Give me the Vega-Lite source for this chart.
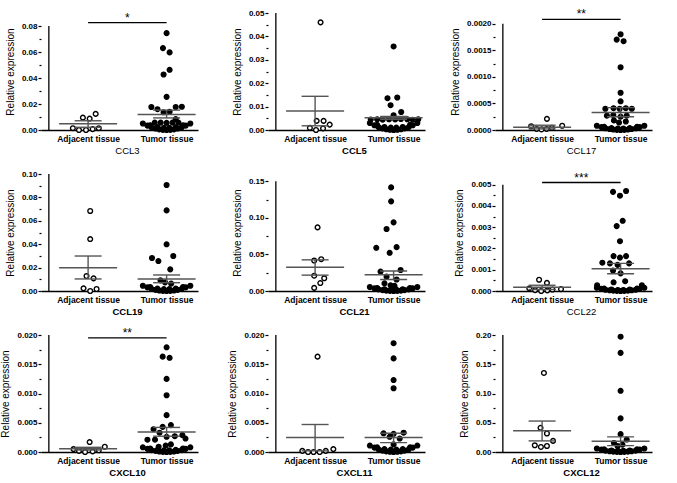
{
"$schema":"https://vega.github.io/schema/vega-lite/v6.json",
"padding":{"left":0,"top":8,"right":5,"bottom":5},
"columns":3,
"spacing":{"row":44,"column":70},
"bounds":"flush",
"datasets":{
"pts":[
{"p":"CCL3","g":0,"v":0.0095,"dx":-5.7},{"p":"CCL3","g":0,"v":0.0088,"dx":1.7},{"p":"CCL3","g":0,"v":0.0124,"dx":8.3},{"p":"CCL3","g":0,"v":0.0014,"dx":-16.7},{"p":"CCL3","g":0,"v":0,"dx":-10},{"p":"CCL3","g":0,"v":0,"dx":-2.3},{"p":"CCL3","g":0,"v":0.0007,"dx":5},{"p":"CCL3","g":0,"v":0.0014,"dx":11.7},
{"p":"CCL3","g":1,"v":0.0745,"dx":0},{"p":"CCL3","g":1,"v":0.063,"dx":-4},{"p":"CCL3","g":1,"v":0.0597,"dx":3.3},{"p":"CCL3","g":1,"v":0.0463,"dx":3.3},{"p":"CCL3","g":1,"v":0.0427,"dx":-3.3},{"p":"CCL3","g":1,"v":0.0255,"dx":0},{"p":"CCL3","g":1,"v":0.0177,"dx":-16.7},{"p":"CCL3","g":1,"v":0.016,"dx":-10},{"p":"CCL3","g":1,"v":0.0177,"dx":10},{"p":"CCL3","g":1,"v":0.0179,"dx":16.7},{"p":"CCL3","g":1,"v":0.0136,"dx":-3.3},{"p":"CCL3","g":1,"v":0.0141,"dx":3.3},{"p":"CCL3","g":1,"v":0.0084,"dx":10},{"p":"CCL3","g":1,"v":0.0057,"dx":-13},{"p":"CCL3","g":1,"v":0.0057,"dx":-6.5},{"p":"CCL3","g":1,"v":0.0055,"dx":0},{"p":"CCL3","g":1,"v":0.0057,"dx":6.5},{"p":"CCL3","g":1,"v":0.0057,"dx":13},
{"p":"CCL3","g":1,"v":0.005,"dx":-26},{"p":"CCL3","g":1,"v":0.0034,"dx":-21},{"p":"CCL3","g":1,"v":0.002,"dx":-16.5},{"p":"CCL3","g":1,"v":0.0011,"dx":-12},{"p":"CCL3","g":1,"v":0.0005,"dx":-8},{"p":"CCL3","g":1,"v":0.00013,"dx":-4},{"p":"CCL3","g":1,"v":0,"dx":0},{"p":"CCL3","g":1,"v":0.00013,"dx":4},{"p":"CCL3","g":1,"v":0.0005,"dx":8},{"p":"CCL3","g":1,"v":0.0011,"dx":12},{"p":"CCL3","g":1,"v":0.002,"dx":16.5},{"p":"CCL3","g":1,"v":0.0034,"dx":21},{"p":"CCL3","g":1,"v":0.005,"dx":26},
{"p":"CCL3","g":1,"v":0.0037,"dx":-18},{"p":"CCL3","g":1,"v":0.0022,"dx":-10},{"p":"CCL3","g":1,"v":0.0017,"dx":-3},{"p":"CCL3","g":1,"v":0.0017,"dx":3},{"p":"CCL3","g":1,"v":0.0022,"dx":10},{"p":"CCL3","g":1,"v":0.0037,"dx":18},

{"p":"CCL5","g":0,"v":0.046,"dx":6},{"p":"CCL5","g":0,"v":0.0039,"dx":1.7},{"p":"CCL5","g":0,"v":0.0039,"dx":9.3},{"p":"CCL5","g":0,"v":0.0023,"dx":16},{"p":"CCL5","g":0,"v":0.0009,"dx":-5.7},{"p":"CCL5","g":0,"v":0,"dx":1},{"p":"CCL5","g":0,"v":0.0007,"dx":8.7},
{"p":"CCL5","g":1,"v":0.0357,"dx":0},{"p":"CCL5","g":1,"v":0.0136,"dx":-6.7},{"p":"CCL5","g":1,"v":0.0139,"dx":4},{"p":"CCL5","g":1,"v":0.0106,"dx":-3.3},{"p":"CCL5","g":1,"v":0.0077,"dx":8.3},{"p":"CCL5","g":1,"v":0.0063,"dx":0},
{"p":"CCL5","g":1,"v":0.0045,"dx":-25},{"p":"CCL5","g":1,"v":0.0046,"dx":-18},{"p":"CCL5","g":1,"v":0.0044,"dx":-12},{"p":"CCL5","g":1,"v":0.0046,"dx":-5},{"p":"CCL5","g":1,"v":0.0045,"dx":1.7},{"p":"CCL5","g":1,"v":0.0047,"dx":8},{"p":"CCL5","g":1,"v":0.0046,"dx":15},{"p":"CCL5","g":1,"v":0.0044,"dx":21},{"p":"CCL5","g":1,"v":0.0046,"dx":27},
{"p":"CCL5","g":1,"v":0.003,"dx":-26},{"p":"CCL5","g":1,"v":0.002,"dx":-21},{"p":"CCL5","g":1,"v":0.0012,"dx":-16.5},{"p":"CCL5","g":1,"v":0.00066,"dx":-12},{"p":"CCL5","g":1,"v":0.0003,"dx":-8},{"p":"CCL5","g":1,"v":0.00008,"dx":-4},{"p":"CCL5","g":1,"v":0,"dx":0},{"p":"CCL5","g":1,"v":0.00008,"dx":4},{"p":"CCL5","g":1,"v":0.0003,"dx":8},{"p":"CCL5","g":1,"v":0.00066,"dx":12},{"p":"CCL5","g":1,"v":0.0012,"dx":16.5},{"p":"CCL5","g":1,"v":0.002,"dx":21},{"p":"CCL5","g":1,"v":0.003,"dx":26},
{"p":"CCL5","g":1,"v":0.0022,"dx":-18},{"p":"CCL5","g":1,"v":0.0013,"dx":-10},{"p":"CCL5","g":1,"v":0.001,"dx":-3},{"p":"CCL5","g":1,"v":0.001,"dx":3},{"p":"CCL5","g":1,"v":0.0013,"dx":10},{"p":"CCL5","g":1,"v":0.0022,"dx":18},

{"p":"CCL17","g":0,"v":0.00021,"dx":5.3},{"p":"CCL17","g":0,"v":0.00007,"dx":-12},{"p":"CCL17","g":0,"v":0.00002,"dx":-6},{"p":"CCL17","g":0,"v":0.00001,"dx":-0.7},{"p":"CCL17","g":0,"v":0.00002,"dx":5},{"p":"CCL17","g":0,"v":0.00004,"dx":10.7},{"p":"CCL17","g":0,"v":0.00008,"dx":22},
{"p":"CCL17","g":1,"v":0.0018,"dx":0},{"p":"CCL17","g":1,"v":0.0017,"dx":-4.3},{"p":"CCL17","g":1,"v":0.00167,"dx":3.3},{"p":"CCL17","g":1,"v":0.00118,"dx":0},{"p":"CCL17","g":1,"v":0.0007,"dx":0},{"p":"CCL17","g":1,"v":0.00054,"dx":0},
{"p":"CCL17","g":1,"v":0.0004,"dx":-16.7},{"p":"CCL17","g":1,"v":0.00041,"dx":-7.7},{"p":"CCL17","g":1,"v":0.0004,"dx":-1},{"p":"CCL17","g":1,"v":0.00041,"dx":5.7},{"p":"CCL17","g":1,"v":0.0004,"dx":12.3},
{"p":"CCL17","g":1,"v":0.00027,"dx":-15},{"p":"CCL17","g":1,"v":0.00028,"dx":-8},{"p":"CCL17","g":1,"v":0.00025,"dx":0},{"p":"CCL17","g":1,"v":0.00027,"dx":6.7},
{"p":"CCL17","g":1,"v":0.00018,"dx":-7.3},{"p":"CCL17","g":1,"v":0.00014,"dx":-1.7},{"p":"CCL17","g":1,"v":0.00016,"dx":5.7},
{"p":"CCL17","g":1,"v":0.00008,"dx":-26},{"p":"CCL17","g":1,"v":0.000054,"dx":-21},{"p":"CCL17","g":1,"v":0.000032,"dx":-16.5},{"p":"CCL17","g":1,"v":0.000018,"dx":-12},{"p":"CCL17","g":1,"v":0.000008,"dx":-8},{"p":"CCL17","g":1,"v":0.000002,"dx":-4},{"p":"CCL17","g":1,"v":0,"dx":0},{"p":"CCL17","g":1,"v":0.000002,"dx":4},{"p":"CCL17","g":1,"v":0.000008,"dx":8},{"p":"CCL17","g":1,"v":0.000018,"dx":12},{"p":"CCL17","g":1,"v":0.000032,"dx":16.5},{"p":"CCL17","g":1,"v":0.000054,"dx":21},{"p":"CCL17","g":1,"v":0.00008,"dx":26},
{"p":"CCL17","g":1,"v":0.00006,"dx":-18},{"p":"CCL17","g":1,"v":0.000036,"dx":-10},{"p":"CCL17","g":1,"v":0.000028,"dx":-3},{"p":"CCL17","g":1,"v":0.000028,"dx":3},{"p":"CCL17","g":1,"v":0.000036,"dx":10},{"p":"CCL17","g":1,"v":0.00006,"dx":18},

{"p":"CCL19","g":0,"v":0.0684,"dx":2.3},{"p":"CCL19","g":0,"v":0.0444,"dx":2.3},{"p":"CCL19","g":0,"v":0.0128,"dx":-1.7},{"p":"CCL19","g":0,"v":0.0108,"dx":6},{"p":"CCL19","g":0,"v":0.0023,"dx":-5},{"p":"CCL19","g":0,"v":0,"dx":2.3},{"p":"CCL19","g":0,"v":0.0017,"dx":9.3},
{"p":"CCL19","g":1,"v":0.0906,"dx":0},{"p":"CCL19","g":1,"v":0.0689,"dx":0},{"p":"CCL19","g":1,"v":0.0399,"dx":0},{"p":"CCL19","g":1,"v":0.0282,"dx":-16},{"p":"CCL19","g":1,"v":0.0299,"dx":7.3},{"p":"CCL19","g":1,"v":0.0256,"dx":-9},{"p":"CCL19","g":1,"v":0.0185,"dx":4},{"p":"CCL19","g":1,"v":0.0091,"dx":-6.7},{"p":"CCL19","g":1,"v":0.0063,"dx":5},{"p":"CCL19","g":1,"v":0.0074,"dx":-1.7},
{"p":"CCL19","g":1,"v":0.0045,"dx":-26},{"p":"CCL19","g":1,"v":0.0031,"dx":-21},{"p":"CCL19","g":1,"v":0.0018,"dx":-16.5},{"p":"CCL19","g":1,"v":0.001,"dx":-12},{"p":"CCL19","g":1,"v":0.00045,"dx":-8},{"p":"CCL19","g":1,"v":0.00011,"dx":-4},{"p":"CCL19","g":1,"v":0,"dx":0},{"p":"CCL19","g":1,"v":0.00011,"dx":4},{"p":"CCL19","g":1,"v":0.00045,"dx":8},{"p":"CCL19","g":1,"v":0.001,"dx":12},{"p":"CCL19","g":1,"v":0.0018,"dx":16.5},{"p":"CCL19","g":1,"v":0.0031,"dx":21},{"p":"CCL19","g":1,"v":0.0045,"dx":26},
{"p":"CCL19","g":1,"v":0.0034,"dx":-18},{"p":"CCL19","g":1,"v":0.002,"dx":-10},{"p":"CCL19","g":1,"v":0.0016,"dx":-3},{"p":"CCL19","g":1,"v":0.0016,"dx":3},{"p":"CCL19","g":1,"v":0.002,"dx":10},{"p":"CCL19","g":1,"v":0.0034,"dx":18},

{"p":"CCL21","g":0,"v":0.087,"dx":2.7},{"p":"CCL21","g":0,"v":0.0417,"dx":-1},{"p":"CCL21","g":0,"v":0.0435,"dx":6.7},{"p":"CCL21","g":0,"v":0.0209,"dx":-1},{"p":"CCL21","g":0,"v":0.0174,"dx":10},{"p":"CCL21","g":0,"v":0.0109,"dx":5.7},{"p":"CCL21","g":0,"v":0.0043,"dx":-1},
{"p":"CCL21","g":1,"v":0.1417,"dx":-2.7},{"p":"CCL21","g":1,"v":0.1226,"dx":-2.7},{"p":"CCL21","g":1,"v":0.0939,"dx":0},{"p":"CCL21","g":1,"v":0.0848,"dx":-7.7},{"p":"CCL21","g":1,"v":0.0591,"dx":-19},{"p":"CCL21","g":1,"v":0.06,"dx":3.3},{"p":"CCL21","g":1,"v":0.0522,"dx":-4.3},{"p":"CCL21","g":1,"v":0.0265,"dx":-14.3},{"p":"CCL21","g":1,"v":0.0287,"dx":7.7},{"p":"CCL21","g":1,"v":0.0196,"dx":-7.7},{"p":"CCL21","g":1,"v":0.0157,"dx":3.3},{"p":"CCL21","g":1,"v":0.0104,"dx":-10},{"p":"CCL21","g":1,"v":0.0078,"dx":-3.3},{"p":"CCL21","g":1,"v":0.007,"dx":1},
{"p":"CCL21","g":1,"v":0.0055,"dx":-26},{"p":"CCL21","g":1,"v":0.0037,"dx":-21},{"p":"CCL21","g":1,"v":0.0022,"dx":-16.5},{"p":"CCL21","g":1,"v":0.0012,"dx":-12},{"p":"CCL21","g":1,"v":0.00055,"dx":-8},{"p":"CCL21","g":1,"v":0.00014,"dx":-4},{"p":"CCL21","g":1,"v":0,"dx":0},{"p":"CCL21","g":1,"v":0.00014,"dx":4},{"p":"CCL21","g":1,"v":0.00055,"dx":8},{"p":"CCL21","g":1,"v":0.0012,"dx":12},{"p":"CCL21","g":1,"v":0.0022,"dx":16.5},{"p":"CCL21","g":1,"v":0.0037,"dx":21},{"p":"CCL21","g":1,"v":0.0055,"dx":26},
{"p":"CCL21","g":1,"v":0.0041,"dx":-18},{"p":"CCL21","g":1,"v":0.0025,"dx":-10},{"p":"CCL21","g":1,"v":0.0019,"dx":-3},{"p":"CCL21","g":1,"v":0.0019,"dx":3},{"p":"CCL21","g":1,"v":0.0025,"dx":10},{"p":"CCL21","g":1,"v":0.0041,"dx":18},

{"p":"CCL22","g":0,"v":0.00053,"dx":-3.3},{"p":"CCL22","g":0,"v":0.00038,"dx":5.3},{"p":"CCL22","g":0,"v":0.00012,"dx":-14},{"p":"CCL22","g":0,"v":0.00004,"dx":-7.7},{"p":"CCL22","g":0,"v":0,"dx":-1},{"p":"CCL22","g":0,"v":0.00003,"dx":5.7},{"p":"CCL22","g":0,"v":0.00007,"dx":11.3},{"p":"CCL22","g":0,"v":0.00009,"dx":20.7},
{"p":"CCL22","g":1,"v":0.00466,"dx":-8.3},{"p":"CCL22","g":1,"v":0.0047,"dx":6},{"p":"CCL22","g":1,"v":0.00448,"dx":-0.7},{"p":"CCL22","g":1,"v":0.0033,"dx":2.3},{"p":"CCL22","g":1,"v":0.00305,"dx":-4.3},{"p":"CCL22","g":1,"v":0.00234,"dx":-0.7},{"p":"CCL22","g":1,"v":0.00164,"dx":-7.7},{"p":"CCL22","g":1,"v":0.00157,"dx":-0.7},{"p":"CCL22","g":1,"v":0.00164,"dx":6},{"p":"CCL22","g":1,"v":0.00133,"dx":-20},{"p":"CCL22","g":1,"v":0.0013,"dx":-11.7},{"p":"CCL22","g":1,"v":0.00123,"dx":-3.3},{"p":"CCL22","g":1,"v":0.0013,"dx":9.3},{"p":"CCL22","g":1,"v":0.00096,"dx":-8.3},{"p":"CCL22","g":1,"v":0.00083,"dx":0},{"p":"CCL22","g":1,"v":0.00041,"dx":-7.7},{"p":"CCL22","g":1,"v":0.00046,"dx":5},{"p":"CCL22","g":1,"v":0.00027,"dx":-25.7},{"p":"CCL22","g":1,"v":0.00027,"dx":23.3},
{"p":"CCL22","g":1,"v":0.00015,"dx":-26},{"p":"CCL22","g":1,"v":0.0001,"dx":-21},{"p":"CCL22","g":1,"v":0.00006,"dx":-16.5},{"p":"CCL22","g":1,"v":0.000033,"dx":-12},{"p":"CCL22","g":1,"v":0.000015,"dx":-8},{"p":"CCL22","g":1,"v":0.000004,"dx":-4},{"p":"CCL22","g":1,"v":0,"dx":0},{"p":"CCL22","g":1,"v":0.000004,"dx":4},{"p":"CCL22","g":1,"v":0.000015,"dx":8},{"p":"CCL22","g":1,"v":0.000033,"dx":12},{"p":"CCL22","g":1,"v":0.00006,"dx":16.5},{"p":"CCL22","g":1,"v":0.0001,"dx":21},{"p":"CCL22","g":1,"v":0.00015,"dx":26},
{"p":"CCL22","g":1,"v":0.00011,"dx":-18},{"p":"CCL22","g":1,"v":0.00007,"dx":-10},{"p":"CCL22","g":1,"v":0.00005,"dx":-3},{"p":"CCL22","g":1,"v":0.00005,"dx":3},{"p":"CCL22","g":1,"v":0.00007,"dx":10},{"p":"CCL22","g":1,"v":0.00011,"dx":18},

{"p":"CXCL10","g":0,"v":0.0017,"dx":1.7},{"p":"CXCL10","g":0,"v":0.0009,"dx":18.3},{"p":"CXCL10","g":0,"v":0.0005,"dx":-16},{"p":"CXCL10","g":0,"v":0.0002,"dx":-10},{"p":"CXCL10","g":0,"v":0,"dx":-3.3},{"p":"CXCL10","g":0,"v":0.0001,"dx":5},{"p":"CXCL10","g":0,"v":0.0003,"dx":11.7},
{"p":"CXCL10","g":1,"v":0.0179,"dx":0},{"p":"CXCL10","g":1,"v":0.0163,"dx":-4.3},{"p":"CXCL10","g":1,"v":0.0161,"dx":3.3},{"p":"CXCL10","g":1,"v":0.0125,"dx":0},{"p":"CXCL10","g":1,"v":0.0097,"dx":0},{"p":"CXCL10","g":1,"v":0.0063,"dx":0},{"p":"CXCL10","g":1,"v":0.0039,"dx":-14.3},{"p":"CXCL10","g":1,"v":0.0043,"dx":-4.3},{"p":"CXCL10","g":1,"v":0.0046,"dx":4.7},{"p":"CXCL10","g":1,"v":0.0021,"dx":-21},{"p":"CXCL10","g":1,"v":0.0021,"dx":-12.7},{"p":"CXCL10","g":1,"v":0.0033,"dx":-7.7},{"p":"CXCL10","g":1,"v":0.0026,"dx":0},{"p":"CXCL10","g":1,"v":0.0027,"dx":9},{"p":"CXCL10","g":1,"v":0.0029,"dx":17.3},{"p":"CXCL10","g":1,"v":0.0023,"dx":20.7},{"p":"CXCL10","g":1,"v":0.0009,"dx":-8.7},{"p":"CXCL10","g":1,"v":0.0011,"dx":-1},{"p":"CXCL10","g":1,"v":0.0013,"dx":4.7},
{"p":"CXCL10","g":1,"v":0.0008,"dx":-26},{"p":"CXCL10","g":1,"v":0.00054,"dx":-21},{"p":"CXCL10","g":1,"v":0.00032,"dx":-16.5},{"p":"CXCL10","g":1,"v":0.00018,"dx":-12},{"p":"CXCL10","g":1,"v":0.00008,"dx":-8},{"p":"CXCL10","g":1,"v":0.00002,"dx":-4},{"p":"CXCL10","g":1,"v":0,"dx":0},{"p":"CXCL10","g":1,"v":0.00002,"dx":4},{"p":"CXCL10","g":1,"v":0.00008,"dx":8},{"p":"CXCL10","g":1,"v":0.00018,"dx":12},{"p":"CXCL10","g":1,"v":0.00032,"dx":16.5},{"p":"CXCL10","g":1,"v":0.00054,"dx":21},{"p":"CXCL10","g":1,"v":0.0008,"dx":26},
{"p":"CXCL10","g":1,"v":0.0006,"dx":-18},{"p":"CXCL10","g":1,"v":0.00036,"dx":-10},{"p":"CXCL10","g":1,"v":0.00028,"dx":-3},{"p":"CXCL10","g":1,"v":0.00028,"dx":3},{"p":"CXCL10","g":1,"v":0.00036,"dx":10},{"p":"CXCL10","g":1,"v":0.0006,"dx":18},

{"p":"CXCL11","g":0,"v":0.0163,"dx":2.7},{"p":"CXCL11","g":0,"v":0.0002,"dx":-14},{"p":"CXCL11","g":0,"v":0,"dx":-7.7},{"p":"CXCL11","g":0,"v":0,"dx":-1.7},{"p":"CXCL11","g":0,"v":0,"dx":5},{"p":"CXCL11","g":0,"v":0.0002,"dx":11.7},{"p":"CXCL11","g":0,"v":0.0005,"dx":20},
{"p":"CXCL11","g":1,"v":0.0186,"dx":0},{"p":"CXCL11","g":1,"v":0.016,"dx":0},{"p":"CXCL11","g":1,"v":0.0123,"dx":0},{"p":"CXCL11","g":1,"v":0.0109,"dx":0},{"p":"CXCL11","g":1,"v":0.0032,"dx":-11},{"p":"CXCL11","g":1,"v":0.0031,"dx":0},{"p":"CXCL11","g":1,"v":0.0033,"dx":11},{"p":"CXCL11","g":1,"v":0.0026,"dx":-4.3},{"p":"CXCL11","g":1,"v":0.0023,"dx":6.7},{"p":"CXCL11","g":1,"v":0.0013,"dx":0},
{"p":"CXCL11","g":1,"v":0.0011,"dx":-26},{"p":"CXCL11","g":1,"v":0.00075,"dx":-21},{"p":"CXCL11","g":1,"v":0.00044,"dx":-16.5},{"p":"CXCL11","g":1,"v":0.00024,"dx":-12},{"p":"CXCL11","g":1,"v":0.00011,"dx":-8},{"p":"CXCL11","g":1,"v":0.00003,"dx":-4},{"p":"CXCL11","g":1,"v":0,"dx":0},{"p":"CXCL11","g":1,"v":0.00003,"dx":4},{"p":"CXCL11","g":1,"v":0.00011,"dx":8},{"p":"CXCL11","g":1,"v":0.00024,"dx":12},{"p":"CXCL11","g":1,"v":0.00044,"dx":16.5},{"p":"CXCL11","g":1,"v":0.00075,"dx":21},{"p":"CXCL11","g":1,"v":0.0011,"dx":26},
{"p":"CXCL11","g":1,"v":0.0008,"dx":-18},{"p":"CXCL11","g":1,"v":0.0005,"dx":-10},{"p":"CXCL11","g":1,"v":0.0004,"dx":-3},{"p":"CXCL11","g":1,"v":0.0004,"dx":3},{"p":"CXCL11","g":1,"v":0.0005,"dx":10},{"p":"CXCL11","g":1,"v":0.0008,"dx":18},

{"p":"CXCL12","g":0,"v":0.1351,"dx":2},{"p":"CXCL12","g":0,"v":0.0414,"dx":-1.7},{"p":"CXCL12","g":0,"v":0.0316,"dx":5.3},{"p":"CXCL12","g":0,"v":0.019,"dx":12},{"p":"CXCL12","g":0,"v":0.0115,"dx":-8},{"p":"CXCL12","g":0,"v":0.0086,"dx":-1.3},{"p":"CXCL12","g":0,"v":0.0103,"dx":5.3},
{"p":"CXCL12","g":1,"v":0.1971,"dx":0},{"p":"CXCL12","g":1,"v":0.1695,"dx":0},{"p":"CXCL12","g":1,"v":0.1046,"dx":0},{"p":"CXCL12","g":1,"v":0.0575,"dx":0},{"p":"CXCL12","g":1,"v":0.0305,"dx":0},{"p":"CXCL12","g":1,"v":0.0213,"dx":6.7},{"p":"CXCL12","g":1,"v":0.0155,"dx":-7.3},{"p":"CXCL12","g":1,"v":0.0126,"dx":2},{"p":"CXCL12","g":1,"v":0.0103,"dx":-3.3},
{"p":"CXCL12","g":1,"v":0.006,"dx":-26},{"p":"CXCL12","g":1,"v":0.0041,"dx":-21},{"p":"CXCL12","g":1,"v":0.0024,"dx":-16.5},{"p":"CXCL12","g":1,"v":0.0013,"dx":-12},{"p":"CXCL12","g":1,"v":0.0006,"dx":-8},{"p":"CXCL12","g":1,"v":0.00015,"dx":-4},{"p":"CXCL12","g":1,"v":0,"dx":0},{"p":"CXCL12","g":1,"v":0.00015,"dx":4},{"p":"CXCL12","g":1,"v":0.0006,"dx":8},{"p":"CXCL12","g":1,"v":0.0013,"dx":12},{"p":"CXCL12","g":1,"v":0.0024,"dx":16.5},{"p":"CXCL12","g":1,"v":0.0041,"dx":21},{"p":"CXCL12","g":1,"v":0.006,"dx":26},
{"p":"CXCL12","g":1,"v":0.0045,"dx":-18},{"p":"CXCL12","g":1,"v":0.0027,"dx":-10},{"p":"CXCL12","g":1,"v":0.0021,"dx":-3},{"p":"CXCL12","g":1,"v":0.0021,"dx":3},{"p":"CXCL12","g":1,"v":0.0027,"dx":10},{"p":"CXCL12","g":1,"v":0.0045,"dx":18}
],
"summ":[
{"p":"CCL3","g":0,"mean":0.0048,"lo":0.0021,"hi":0.0071},{"p":"CCL3","g":1,"mean":0.0119,"lo":0.0093,"hi":0.0153},
{"p":"CCL5","g":0,"mean":0.0081,"lo":0.0018,"hi":0.0144},{"p":"CCL5","g":1,"mean":0.0052,"lo":0.0046,"hi":0.0058},
{"p":"CCL17","g":0,"mean":0.00005,"lo":0.00002,"hi":0.00009},{"p":"CCL17","g":1,"mean":0.00033,"lo":0.00025,"hi":0.00042},
{"p":"CCL19","g":0,"mean":0.0199,"lo":0.0103,"hi":0.0299},{"p":"CCL19","g":1,"mean":0.0103,"lo":0.0071,"hi":0.0137},
{"p":"CCL21","g":0,"mean":0.0326,"lo":0.0217,"hi":0.0426},{"p":"CCL21","g":1,"mean":0.0222,"lo":0.0157,"hi":0.0274},
{"p":"CCL22","g":0,"mean":0.00018,"lo":0.00007,"hi":0.00027},{"p":"CCL22","g":1,"mean":0.00105,"lo":0.00081,"hi":0.0013},
{"p":"CXCL10","g":0,"mean":0.00057,"lo":0.00034,"hi":0.0008},{"p":"CXCL10","g":1,"mean":0.0034,"lo":0.0027,"hi":0.0042},
{"p":"CXCL11","g":0,"mean":0.0025,"lo":0.0002,"hi":0.0047},{"p":"CXCL11","g":1,"mean":0.0025,"lo":0.0016,"hi":0.0032},
{"p":"CXCL12","g":0,"mean":0.0362,"lo":0.019,"hi":0.0529},{"p":"CXCL12","g":1,"mean":0.0184,"lo":0.0109,"hi":0.0259}
],
"sig":[
{"p":"CCL3","y":0.0826,"lab":"*"},{"p":"CCL17","y":0.00208,"lab":"**"},{"p":"CCL22","y":0.0051,"lab":"***"},{"p":"CXCL10","y":0.0195,"lab":"**"}
]
},
"concat":[
{"width":157,"height":117,"resolve":{"axis":{"y":"independent"}},"layer":[
{"data":{"name":"pts"},"transform":[{"filter":"datum.p=='CCL3'"},{"calculate":"datum.g+datum.dx/86","as":"xp"}],"mark":{"type":"circle","size":22,"stroke":"black","strokeWidth":1.4,"opacity":1},
"encoding":{"x":{"field":"xp","type":"quantitative","title":"CCL3","scale":{"domain":[-0.5,1.33]},"axis":{"values":[0,1],"labelExpr":"datum.value==0?'Adjacent tissue':'Tumor tissue'","titleFontWeight":"normal"}},
"y":{"field":"v","type":"quantitative","title":"Relative expression","scale":{"domain":[0,0.0836]},"axis":{"orient":"left","values":[0,0.02,0.04,0.06,0.08],"format":".2f"}},
"fill":{"condition":{"test":"datum.g==0","value":"white"},"value":"black"}}},
{"data":{"name":"summ"},"transform":[{"filter":"datum.p=='CCL3'"}],"mark":{"type":"rule","color":"#555","strokeWidth":1.4},"encoding":{"x":{"field":"g","type":"quantitative","title":"CCL3"},"y":{"field":"lo","type":"quantitative","axis":null},"y2":{"field":"hi"}}},
{"data":{"name":"summ"},"transform":[{"filter":"datum.p=='CCL3'"},{"fold":["lo","hi"],"as":["k","val"]}],"mark":{"type":"tick","orient":"horizontal","size":27,"thickness":1.4,"color":"#555","opacity":1},"encoding":{"x":{"field":"g","type":"quantitative","title":"CCL3"},"y":{"field":"val","type":"quantitative","axis":null}}},
{"data":{"name":"summ"},"transform":[{"filter":"datum.p=='CCL3'"}],"mark":{"type":"tick","orient":"horizontal","size":58,"thickness":1.5,"color":"#555","opacity":1},"encoding":{"x":{"field":"g","type":"quantitative","title":"CCL3"},"y":{"field":"mean","type":"quantitative","axis":null}}},
{"data":{"values":[{}]},"mark":{"type":"rule","color":"black","strokeWidth":1.3},"encoding":{"x":{"datum":-0.5},"y":{"datum":0,"axis":{"orient":"left","values":[0.01,0.03,0.05,0.07],"labels":false,"tickSize":2,"title":null}},"y2":{"datum":0.08}}},
{"data":{"name":"sig"},"transform":[{"filter":"datum.p=='CCL3'"}],"mark":{"type":"rule","color":"black","strokeWidth":1.3},"encoding":{"x":{"datum":0},"x2":{"datum":1},"y":{"field":"y","type":"quantitative","axis":null}}},
{"data":{"name":"sig"},"transform":[{"filter":"datum.p=='CCL3'"}],"mark":{"type":"text","fontSize":12,"baseline":"alphabetic","dy":-1,"color":"black"},"encoding":{"x":{"datum":0.5},"y":{"field":"y","type":"quantitative","axis":null},"text":{"field":"lab"}}}
]},
{"width":157,"height":117,"resolve":{"axis":{"y":"independent"}},"layer":[
{"data":{"name":"pts"},"transform":[{"filter":"datum.p=='CCL5'"},{"calculate":"datum.g+datum.dx/86","as":"xp"}],"mark":{"type":"circle","size":22,"stroke":"black","strokeWidth":1.4,"opacity":1},
"encoding":{"x":{"field":"xp","type":"quantitative","title":"CCL5","scale":{"domain":[-0.5,1.33]},"axis":{"values":[0,1],"labelExpr":"datum.value==0?'Adjacent tissue':'Tumor tissue'","titleFontWeight":"bold"}},
"y":{"field":"v","type":"quantitative","title":"Relative expression","scale":{"domain":[0,0.05]},"axis":{"orient":"left","values":[0,0.01,0.02,0.03,0.04,0.05],"format":".2f"}},
"fill":{"condition":{"test":"datum.g==0","value":"white"},"value":"black"}}},
{"data":{"name":"summ"},"transform":[{"filter":"datum.p=='CCL5'"}],"mark":{"type":"rule","color":"#555","strokeWidth":1.4},"encoding":{"x":{"field":"g","type":"quantitative","title":"CCL5"},"y":{"field":"lo","type":"quantitative","axis":null},"y2":{"field":"hi"}}},
{"data":{"name":"summ"},"transform":[{"filter":"datum.p=='CCL5'"},{"fold":["lo","hi"],"as":["k","val"]}],"mark":{"type":"tick","orient":"horizontal","size":27,"thickness":1.4,"color":"#555","opacity":1},"encoding":{"x":{"field":"g","type":"quantitative","title":"CCL5"},"y":{"field":"val","type":"quantitative","axis":null}}},
{"data":{"name":"summ"},"transform":[{"filter":"datum.p=='CCL5'"}],"mark":{"type":"tick","orient":"horizontal","size":58,"thickness":1.5,"color":"#555","opacity":1},"encoding":{"x":{"field":"g","type":"quantitative","title":"CCL5"},"y":{"field":"mean","type":"quantitative","axis":null}}},
{"data":{"values":[{}]},"mark":{"type":"rule","color":"black","strokeWidth":1.3},"encoding":{"x":{"datum":-0.5},"y":{"datum":0,"axis":{"orient":"left","values":[0.005,0.015,0.025,0.035,0.045],"labels":false,"tickSize":2,"title":null}},"y2":{"datum":0.05}}}
]},
{"width":157,"height":117,"resolve":{"axis":{"y":"independent"}},"layer":[
{"data":{"name":"pts"},"transform":[{"filter":"datum.p=='CCL17'"},{"calculate":"datum.g+datum.dx/86","as":"xp"}],"mark":{"type":"circle","size":22,"stroke":"black","strokeWidth":1.4,"opacity":1},
"encoding":{"x":{"field":"xp","type":"quantitative","title":"CCL17","scale":{"domain":[-0.5,1.33]},"axis":{"values":[0,1],"labelExpr":"datum.value==0?'Adjacent tissue':'Tumor tissue'","titleFontWeight":"normal"}},
"y":{"field":"v","type":"quantitative","title":"Relative expression","scale":{"domain":[0,0.002095]},"axis":{"orient":"left","values":[0,0.0005,0.001,0.0015,0.002],"format":".4f"}},
"fill":{"condition":{"test":"datum.g==0","value":"white"},"value":"black"}}},
{"data":{"name":"summ"},"transform":[{"filter":"datum.p=='CCL17'"}],"mark":{"type":"rule","color":"#555","strokeWidth":1.4},"encoding":{"x":{"field":"g","type":"quantitative","title":"CCL17"},"y":{"field":"lo","type":"quantitative","axis":null},"y2":{"field":"hi"}}},
{"data":{"name":"summ"},"transform":[{"filter":"datum.p=='CCL17'"},{"fold":["lo","hi"],"as":["k","val"]}],"mark":{"type":"tick","orient":"horizontal","size":27,"thickness":1.4,"color":"#555","opacity":1},"encoding":{"x":{"field":"g","type":"quantitative","title":"CCL17"},"y":{"field":"val","type":"quantitative","axis":null}}},
{"data":{"name":"summ"},"transform":[{"filter":"datum.p=='CCL17'"}],"mark":{"type":"tick","orient":"horizontal","size":58,"thickness":1.5,"color":"#555","opacity":1},"encoding":{"x":{"field":"g","type":"quantitative","title":"CCL17"},"y":{"field":"mean","type":"quantitative","axis":null}}},
{"data":{"values":[{}]},"mark":{"type":"rule","color":"black","strokeWidth":1.3},"encoding":{"x":{"datum":-0.5},"y":{"datum":0,"axis":{"orient":"left","values":[0.00025,0.00075,0.00125,0.00175],"labels":false,"tickSize":2,"title":null}},"y2":{"datum":0.002}}},
{"data":{"name":"sig"},"transform":[{"filter":"datum.p=='CCL17'"}],"mark":{"type":"rule","color":"black","strokeWidth":1.3},"encoding":{"x":{"datum":0},"x2":{"datum":1},"y":{"field":"y","type":"quantitative","axis":null}}},
{"data":{"name":"sig"},"transform":[{"filter":"datum.p=='CCL17'"}],"mark":{"type":"text","fontSize":12,"baseline":"alphabetic","dy":-1,"color":"black"},"encoding":{"x":{"datum":0.5},"y":{"field":"y","type":"quantitative","axis":null},"text":{"field":"lab"}}}
]},
{"width":157,"height":117,"resolve":{"axis":{"y":"independent"}},"layer":[
{"data":{"name":"pts"},"transform":[{"filter":"datum.p=='CCL19'"},{"calculate":"datum.g+datum.dx/86","as":"xp"}],"mark":{"type":"circle","size":22,"stroke":"black","strokeWidth":1.4,"opacity":1},
"encoding":{"x":{"field":"xp","type":"quantitative","title":"CCL19","scale":{"domain":[-0.5,1.33]},"axis":{"values":[0,1],"labelExpr":"datum.value==0?'Adjacent tissue':'Tumor tissue'","titleFontWeight":"bold"}},
"y":{"field":"v","type":"quantitative","title":"Relative expression","scale":{"domain":[0,0.1]},"axis":{"orient":"left","values":[0,0.02,0.04,0.06,0.08,0.1],"format":".2f"}},
"fill":{"condition":{"test":"datum.g==0","value":"white"},"value":"black"}}},
{"data":{"name":"summ"},"transform":[{"filter":"datum.p=='CCL19'"}],"mark":{"type":"rule","color":"#555","strokeWidth":1.4},"encoding":{"x":{"field":"g","type":"quantitative","title":"CCL19"},"y":{"field":"lo","type":"quantitative","axis":null},"y2":{"field":"hi"}}},
{"data":{"name":"summ"},"transform":[{"filter":"datum.p=='CCL19'"},{"fold":["lo","hi"],"as":["k","val"]}],"mark":{"type":"tick","orient":"horizontal","size":27,"thickness":1.4,"color":"#555","opacity":1},"encoding":{"x":{"field":"g","type":"quantitative","title":"CCL19"},"y":{"field":"val","type":"quantitative","axis":null}}},
{"data":{"name":"summ"},"transform":[{"filter":"datum.p=='CCL19'"}],"mark":{"type":"tick","orient":"horizontal","size":58,"thickness":1.5,"color":"#555","opacity":1},"encoding":{"x":{"field":"g","type":"quantitative","title":"CCL19"},"y":{"field":"mean","type":"quantitative","axis":null}}},
{"data":{"values":[{}]},"mark":{"type":"rule","color":"black","strokeWidth":1.3},"encoding":{"x":{"datum":-0.5},"y":{"datum":0,"axis":{"orient":"left","values":[0.01,0.03,0.05,0.07,0.09],"labels":false,"tickSize":2,"title":null}},"y2":{"datum":0.1}}}
]},
{"width":157,"height":117,"resolve":{"axis":{"y":"independent"}},"layer":[
{"data":{"name":"pts"},"transform":[{"filter":"datum.p=='CCL21'"},{"calculate":"datum.g+datum.dx/86","as":"xp"}],"mark":{"type":"circle","size":22,"stroke":"black","strokeWidth":1.4,"opacity":1},
"encoding":{"x":{"field":"xp","type":"quantitative","title":"CCL21","scale":{"domain":[-0.5,1.33]},"axis":{"values":[0,1],"labelExpr":"datum.value==0?'Adjacent tissue':'Tumor tissue'","titleFontWeight":"bold"}},
"y":{"field":"v","type":"quantitative","title":"Relative expression","scale":{"domain":[0,0.15]},"axis":{"orient":"left","values":[0,0.05,0.1,0.15],"format":".2f"}},
"fill":{"condition":{"test":"datum.g==0","value":"white"},"value":"black"}}},
{"data":{"name":"summ"},"transform":[{"filter":"datum.p=='CCL21'"}],"mark":{"type":"rule","color":"#555","strokeWidth":1.4},"encoding":{"x":{"field":"g","type":"quantitative","title":"CCL21"},"y":{"field":"lo","type":"quantitative","axis":null},"y2":{"field":"hi"}}},
{"data":{"name":"summ"},"transform":[{"filter":"datum.p=='CCL21'"},{"fold":["lo","hi"],"as":["k","val"]}],"mark":{"type":"tick","orient":"horizontal","size":27,"thickness":1.4,"color":"#555","opacity":1},"encoding":{"x":{"field":"g","type":"quantitative","title":"CCL21"},"y":{"field":"val","type":"quantitative","axis":null}}},
{"data":{"name":"summ"},"transform":[{"filter":"datum.p=='CCL21'"}],"mark":{"type":"tick","orient":"horizontal","size":58,"thickness":1.5,"color":"#555","opacity":1},"encoding":{"x":{"field":"g","type":"quantitative","title":"CCL21"},"y":{"field":"mean","type":"quantitative","axis":null}}},
{"data":{"values":[{}]},"mark":{"type":"rule","color":"black","strokeWidth":1.3},"encoding":{"x":{"datum":-0.5},"y":{"datum":0,"axis":{"orient":"left","values":[0.025,0.075,0.125],"labels":false,"tickSize":2,"title":null}},"y2":{"datum":0.15}}}
]},
{"width":157,"height":117,"resolve":{"axis":{"y":"independent"}},"layer":[
{"data":{"name":"pts"},"transform":[{"filter":"datum.p=='CCL22'"},{"calculate":"datum.g+datum.dx/86","as":"xp"}],"mark":{"type":"circle","size":22,"stroke":"black","strokeWidth":1.4,"opacity":1},
"encoding":{"x":{"field":"xp","type":"quantitative","title":"CCL22","scale":{"domain":[-0.5,1.33]},"axis":{"values":[0,1],"labelExpr":"datum.value==0?'Adjacent tissue':'Tumor tissue'","titleFontWeight":"normal"}},
"y":{"field":"v","type":"quantitative","title":"Relative expression","scale":{"domain":[0,0.00519]},"axis":{"orient":"left","values":[0,0.001,0.002,0.003,0.004,0.005],"format":".3f"}},
"fill":{"condition":{"test":"datum.g==0","value":"white"},"value":"black"}}},
{"data":{"name":"summ"},"transform":[{"filter":"datum.p=='CCL22'"}],"mark":{"type":"rule","color":"#555","strokeWidth":1.4},"encoding":{"x":{"field":"g","type":"quantitative","title":"CCL22"},"y":{"field":"lo","type":"quantitative","axis":null},"y2":{"field":"hi"}}},
{"data":{"name":"summ"},"transform":[{"filter":"datum.p=='CCL22'"},{"fold":["lo","hi"],"as":["k","val"]}],"mark":{"type":"tick","orient":"horizontal","size":27,"thickness":1.4,"color":"#555","opacity":1},"encoding":{"x":{"field":"g","type":"quantitative","title":"CCL22"},"y":{"field":"val","type":"quantitative","axis":null}}},
{"data":{"name":"summ"},"transform":[{"filter":"datum.p=='CCL22'"}],"mark":{"type":"tick","orient":"horizontal","size":58,"thickness":1.5,"color":"#555","opacity":1},"encoding":{"x":{"field":"g","type":"quantitative","title":"CCL22"},"y":{"field":"mean","type":"quantitative","axis":null}}},
{"data":{"values":[{}]},"mark":{"type":"rule","color":"black","strokeWidth":1.3},"encoding":{"x":{"datum":-0.5},"y":{"datum":0,"axis":{"orient":"left","values":[0.0005,0.0015,0.0025,0.0035,0.0045],"labels":false,"tickSize":2,"title":null}},"y2":{"datum":0.005}}},
{"data":{"name":"sig"},"transform":[{"filter":"datum.p=='CCL22'"}],"mark":{"type":"rule","color":"black","strokeWidth":1.3},"encoding":{"x":{"datum":0},"x2":{"datum":1},"y":{"field":"y","type":"quantitative","axis":null}}},
{"data":{"name":"sig"},"transform":[{"filter":"datum.p=='CCL22'"}],"mark":{"type":"text","fontSize":12,"baseline":"alphabetic","dy":-1,"color":"black"},"encoding":{"x":{"datum":0.5},"y":{"field":"y","type":"quantitative","axis":null},"text":{"field":"lab"}}}
]},
{"width":157,"height":117,"resolve":{"axis":{"y":"independent"}},"layer":[
{"data":{"name":"pts"},"transform":[{"filter":"datum.p=='CXCL10'"},{"calculate":"datum.g+datum.dx/86","as":"xp"}],"mark":{"type":"circle","size":22,"stroke":"black","strokeWidth":1.4,"opacity":1},
"encoding":{"x":{"field":"xp","type":"quantitative","title":"CXCL10","scale":{"domain":[-0.5,1.33]},"axis":{"values":[0,1],"labelExpr":"datum.value==0?'Adjacent tissue':'Tumor tissue'","titleFontWeight":"bold"}},
"y":{"field":"v","type":"quantitative","title":"Relative expression","scale":{"domain":[0,0.02]},"axis":{"orient":"left","values":[0,0.005,0.01,0.015,0.02],"format":".3f"}},
"fill":{"condition":{"test":"datum.g==0","value":"white"},"value":"black"}}},
{"data":{"name":"summ"},"transform":[{"filter":"datum.p=='CXCL10'"}],"mark":{"type":"rule","color":"#555","strokeWidth":1.4},"encoding":{"x":{"field":"g","type":"quantitative","title":"CXCL10"},"y":{"field":"lo","type":"quantitative","axis":null},"y2":{"field":"hi"}}},
{"data":{"name":"summ"},"transform":[{"filter":"datum.p=='CXCL10'"},{"fold":["lo","hi"],"as":["k","val"]}],"mark":{"type":"tick","orient":"horizontal","size":27,"thickness":1.4,"color":"#555","opacity":1},"encoding":{"x":{"field":"g","type":"quantitative","title":"CXCL10"},"y":{"field":"val","type":"quantitative","axis":null}}},
{"data":{"name":"summ"},"transform":[{"filter":"datum.p=='CXCL10'"}],"mark":{"type":"tick","orient":"horizontal","size":58,"thickness":1.5,"color":"#555","opacity":1},"encoding":{"x":{"field":"g","type":"quantitative","title":"CXCL10"},"y":{"field":"mean","type":"quantitative","axis":null}}},
{"data":{"values":[{}]},"mark":{"type":"rule","color":"black","strokeWidth":1.3},"encoding":{"x":{"datum":-0.5},"y":{"datum":0,"axis":{"orient":"left","values":[0.0025,0.0075,0.0125,0.0175],"labels":false,"tickSize":2,"title":null}},"y2":{"datum":0.02}}},
{"data":{"name":"sig"},"transform":[{"filter":"datum.p=='CXCL10'"}],"mark":{"type":"rule","color":"black","strokeWidth":1.3},"encoding":{"x":{"datum":0},"x2":{"datum":1},"y":{"field":"y","type":"quantitative","axis":null}}},
{"data":{"name":"sig"},"transform":[{"filter":"datum.p=='CXCL10'"}],"mark":{"type":"text","fontSize":12,"baseline":"alphabetic","dy":-1,"color":"black"},"encoding":{"x":{"datum":0.5},"y":{"field":"y","type":"quantitative","axis":null},"text":{"field":"lab"}}}
]},
{"width":157,"height":117,"resolve":{"axis":{"y":"independent"}},"layer":[
{"data":{"name":"pts"},"transform":[{"filter":"datum.p=='CXCL11'"},{"calculate":"datum.g+datum.dx/86","as":"xp"}],"mark":{"type":"circle","size":22,"stroke":"black","strokeWidth":1.4,"opacity":1},
"encoding":{"x":{"field":"xp","type":"quantitative","title":"CXCL11","scale":{"domain":[-0.5,1.33]},"axis":{"values":[0,1],"labelExpr":"datum.value==0?'Adjacent tissue':'Tumor tissue'","titleFontWeight":"bold"}},
"y":{"field":"v","type":"quantitative","title":"Relative expression","scale":{"domain":[0,0.02]},"axis":{"orient":"left","values":[0,0.005,0.01,0.015,0.02],"format":".3f"}},
"fill":{"condition":{"test":"datum.g==0","value":"white"},"value":"black"}}},
{"data":{"name":"summ"},"transform":[{"filter":"datum.p=='CXCL11'"}],"mark":{"type":"rule","color":"#555","strokeWidth":1.4},"encoding":{"x":{"field":"g","type":"quantitative","title":"CXCL11"},"y":{"field":"lo","type":"quantitative","axis":null},"y2":{"field":"hi"}}},
{"data":{"name":"summ"},"transform":[{"filter":"datum.p=='CXCL11'"},{"fold":["lo","hi"],"as":["k","val"]}],"mark":{"type":"tick","orient":"horizontal","size":27,"thickness":1.4,"color":"#555","opacity":1},"encoding":{"x":{"field":"g","type":"quantitative","title":"CXCL11"},"y":{"field":"val","type":"quantitative","axis":null}}},
{"data":{"name":"summ"},"transform":[{"filter":"datum.p=='CXCL11'"}],"mark":{"type":"tick","orient":"horizontal","size":58,"thickness":1.5,"color":"#555","opacity":1},"encoding":{"x":{"field":"g","type":"quantitative","title":"CXCL11"},"y":{"field":"mean","type":"quantitative","axis":null}}},
{"data":{"values":[{}]},"mark":{"type":"rule","color":"black","strokeWidth":1.3},"encoding":{"x":{"datum":-0.5},"y":{"datum":0,"axis":{"orient":"left","values":[0.0025,0.0075,0.0125,0.0175],"labels":false,"tickSize":2,"title":null}},"y2":{"datum":0.02}}}
]},
{"width":157,"height":117,"resolve":{"axis":{"y":"independent"}},"layer":[
{"data":{"name":"pts"},"transform":[{"filter":"datum.p=='CXCL12'"},{"calculate":"datum.g+datum.dx/86","as":"xp"}],"mark":{"type":"circle","size":22,"stroke":"black","strokeWidth":1.4,"opacity":1},
"encoding":{"x":{"field":"xp","type":"quantitative","title":"CXCL12","scale":{"domain":[-0.5,1.33]},"axis":{"values":[0,1],"labelExpr":"datum.value==0?'Adjacent tissue':'Tumor tissue'","titleFontWeight":"bold"}},
"y":{"field":"v","type":"quantitative","title":"Relative expression","scale":{"domain":[0,0.2]},"axis":{"orient":"left","values":[0,0.05,0.1,0.15,0.2],"format":".2f"}},
"fill":{"condition":{"test":"datum.g==0","value":"white"},"value":"black"}}},
{"data":{"name":"summ"},"transform":[{"filter":"datum.p=='CXCL12'"}],"mark":{"type":"rule","color":"#555","strokeWidth":1.4},"encoding":{"x":{"field":"g","type":"quantitative","title":"CXCL12"},"y":{"field":"lo","type":"quantitative","axis":null},"y2":{"field":"hi"}}},
{"data":{"name":"summ"},"transform":[{"filter":"datum.p=='CXCL12'"},{"fold":["lo","hi"],"as":["k","val"]}],"mark":{"type":"tick","orient":"horizontal","size":27,"thickness":1.4,"color":"#555","opacity":1},"encoding":{"x":{"field":"g","type":"quantitative","title":"CXCL12"},"y":{"field":"val","type":"quantitative","axis":null}}},
{"data":{"name":"summ"},"transform":[{"filter":"datum.p=='CXCL12'"}],"mark":{"type":"tick","orient":"horizontal","size":58,"thickness":1.5,"color":"#555","opacity":1},"encoding":{"x":{"field":"g","type":"quantitative","title":"CXCL12"},"y":{"field":"mean","type":"quantitative","axis":null}}},
{"data":{"values":[{}]},"mark":{"type":"rule","color":"black","strokeWidth":1.3},"encoding":{"x":{"datum":-0.5},"y":{"datum":0,"axis":{"orient":"left","values":[0.025,0.075,0.125,0.175],"labels":false,"tickSize":2,"title":null}},"y2":{"datum":0.2}}}
]}
],
"config":{
"font":"Liberation Sans",
"view":{"stroke":null},
"axis":{"grid":false,"domainColor":"black","tickColor":"black","labelColor":"black","titleColor":"black","domainWidth":1.3,"tickWidth":1.2},
"axisY":{"tickSize":3,"labelPadding":1,"labelFontSize":8,"labelFontWeight":"bold","labelOverlap":false,"titleFontSize":10,"titleFontWeight":"normal","titlePadding":6,"domain":false},
"axisX":{"ticks":false,"labelPadding":4,"labelFontSize":8.5,"labelFontWeight":"bold","titleFontSize":9.5,"titlePadding":3,"titleX":86,"labelAngle":0}
}
}
